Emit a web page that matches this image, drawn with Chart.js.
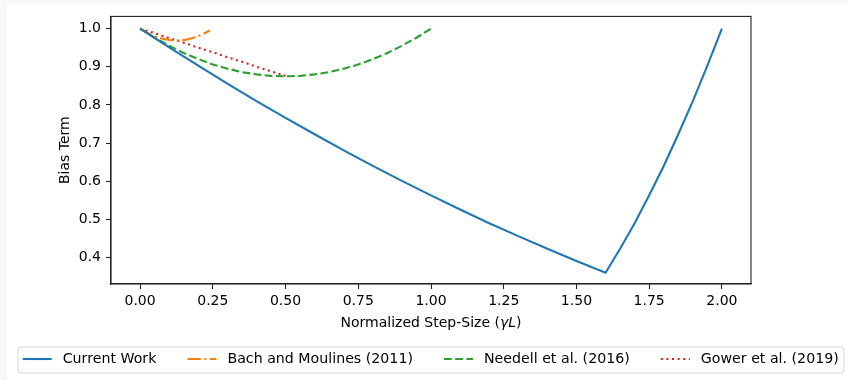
<!DOCTYPE html>
<html>
<head>
<meta charset="utf-8">
<script src="https://cdn.jsdelivr.net/npm/chart.js@4.4.0/dist/chart.umd.min.js"></script>
<style>
html, body { margin: 0; padding: 0; background: #f7f7f7; }
#wrap { position: absolute; left: 7px; top: 3px; width: 841px; height: 377px; background: #fff; }
canvas { display: block; }
</style>
</head>
<body>
<div id="wrap"><canvas id="myChart" width="841" height="377"></canvas></div>
<script>
// values
const currentX = [0, 0.1, 0.2, 0.3, 0.4, 0.5, 0.6, 0.7, 0.8, 0.9, 1.0, 1.1, 1.2, 1.3, 1.4, 1.5, 1.6, 1.65, 1.7, 1.75, 1.8, 1.85, 1.9, 1.95, 2.0];
const currentY = [1.0, 0.951, 0.903, 0.856, 0.81, 0.766, 0.723, 0.681, 0.64, 0.601, 0.563, 0.526, 0.49, 0.456, 0.423, 0.391, 0.36, 0.423, 0.49, 0.563, 0.64, 0.723, 0.81, 0.903, 1.0];

const bachX = [0, 0.02, 0.04, 0.06, 0.08, 0.10, 0.12, 0.14, 0.16, 0.18, 0.20, 0.22, 0.24];
const bachY = [1.0, 0.991, 0.983, 0.977, 0.973, 0.97, 0.969, 0.969, 0.971, 0.975, 0.98, 0.987, 0.995];

const needellX = [0, 0.05, 0.1, 0.15, 0.2, 0.25, 0.3, 0.35, 0.4, 0.45, 0.5, 0.55, 0.6, 0.65, 0.7, 0.75, 0.8, 0.85, 0.9, 0.95, 1.0];
const needellY = [1.0, 0.976, 0.955, 0.936, 0.92, 0.906, 0.895, 0.886, 0.88, 0.876, 0.875, 0.876, 0.88, 0.886, 0.895, 0.906, 0.92, 0.936, 0.955, 0.976, 1.0];

const gowerX = [0, 0.05, 0.1, 0.15, 0.2, 0.25, 0.3, 0.35, 0.4, 0.45, 0.5];
const gowerY = [1.0, 0.988, 0.975, 0.963, 0.95, 0.938, 0.925, 0.913, 0.9, 0.888, 0.876];

const xTicks = [0, 0.25, 0.5, 0.75, 1.0, 1.25, 1.5, 1.75, 2.0];
const yTicks = [0.4, 0.5, 0.6, 0.7, 0.8, 0.9, 1.0];

const FONT = '"DejaVu Sans", sans-serif';

function pts(xs, ys) {
    return xs.map((x, i) => ({ x: x, y: ys[i] }));
}

function series(label, xs, ys, color, dash) {
    return {
        label: label,
        data: pts(xs, ys),
        borderColor: color,
        backgroundColor: color,
        borderWidth: 2.1,
        borderDash: dash,
        pointRadius: 0,
        showLine: true,
        tension: 0,
        fill: false
    };
}

// full frame round the plot, like matplotlib spines
const framePlugin = {
    id: 'frame',
    afterDatasetsDraw(chart) {
        const a = chart.chartArea;
        const ctx = chart.ctx;
        ctx.save();
        ctx.strokeStyle = '#222';
        ctx.lineWidth = 1.1;
        ctx.strokeRect(a.left, a.top, a.right - a.left, a.bottom - a.top);
        ctx.restore();
    }
};

// axis titles and the framed legend below the plot
const textPlugin = {
    id: 'texts',
    afterDraw(chart) {
        const ctx = chart.ctx;
        const a = chart.chartArea;
        ctx.save();
        ctx.fillStyle = '#000';
        ctx.textBaseline = 'middle';

        // x title with italic gamma L
        const parts = [
            ['Normalized Step-Size (', '14px ' + FONT],
            ['γL', 'italic 14px ' + FONT],
            [')', '14px ' + FONT]
        ];
        let total = 0;
        parts.forEach(p => { ctx.font = p[1]; total += ctx.measureText(p[0]).width; });
        let tx = (a.left + a.right) / 2 - total / 2;
        ctx.textAlign = 'left';
        parts.forEach(p => {
            ctx.font = p[1];
            ctx.fillText(p[0], tx, 320);
            tx += ctx.measureText(p[0]).width;
        });

        // y title
        ctx.save();
        ctx.font = '14px ' + FONT;
        ctx.translate(58, (a.top + a.bottom) / 2);
        ctx.rotate(-Math.PI / 2);
        ctx.textAlign = 'center';
        ctx.fillText('Bias Term', 0, 0);
        ctx.restore();

        // legend
        const lx = 11, ly = 344, lw = 826, lh = 26, r = 3;
        ctx.beginPath();
        ctx.moveTo(lx + r, ly);
        ctx.arcTo(lx + lw, ly, lx + lw, ly + lh, r);
        ctx.arcTo(lx + lw, ly + lh, lx, ly + lh, r);
        ctx.arcTo(lx, ly + lh, lx, ly, r);
        ctx.arcTo(lx, ly, lx + lw, ly, r);
        ctx.closePath();
        ctx.fillStyle = 'rgba(255,255,255,0.8)';
        ctx.fill();
        ctx.strokeStyle = '#d6d6d6';
        ctx.lineWidth = 1;
        ctx.stroke();

        ctx.font = '14.2px ' + FONT;
        let x = 15.7;
        const cy = 356;
        chart.data.datasets.forEach(ds => {
            ctx.beginPath();
            ctx.setLineDash(ds.borderDash || []);
            ctx.strokeStyle = ds.borderColor;
            ctx.lineWidth = ds.borderWidth;
            ctx.moveTo(x, cy);
            ctx.lineTo(x + 29, cy);
            ctx.stroke();
            ctx.setLineDash([]);
            x += 29 + 11;
            ctx.fillStyle = '#000';
            ctx.fillText(ds.label, x, cy);
            x += ctx.measureText(ds.label).width + 31;
        });
        ctx.restore();
    }
};

const ctx = document.getElementById('myChart').getContext('2d');
new Chart(ctx, {
    type: 'scatter',
    data: {
        datasets: [
            series('Current Work', currentX, currentY, '#1f77b4', []),
            series('Bach and Moulines (2011)', bachX, bachY, '#ff7f0e', [13.4, 3.4, 2.1, 3.4]),
            series('Needell et al. (2016)', needellX, needellY, '#2ca02c', [7.8, 3.4]),
            series('Gower et al. (2019)', gowerX, gowerY, '#d62728', [2.1, 3.5])
        ]
    },
    options: {
        responsive: false,
        animation: false,
        layout: { padding: { top: 10, right: 97, left: 0, bottom: 0 } },
        plugins: {
            legend: { display: false },
            tooltip: { enabled: false }
        },
        scales: {
            x: {
                type: 'linear',
                min: -0.1,
                max: 2.1,
                afterBuildTicks: s => { s.ticks = xTicks.map(v => ({ value: v })); },
                afterFit: s => { s.height = 96; },
                ticks: {
                    color: '#000',
                    font: { family: FONT, size: 14 },
                    padding: 4,
                    maxRotation: 0,
                    autoSkip: false,
                    callback: v => v.toFixed(2)
                },
                grid: { drawOnChartArea: false, drawTicks: true, tickLength: 5, color: '#222', tickWidth: 1.1 },
                border: { display: true, color: '#222', width: 1.1 }
            },
            y: {
                type: 'linear',
                min: 0.3306,
                max: 1.0319,
                afterBuildTicks: s => { s.ticks = yTicks.map(v => ({ value: v })); },
                afterFit: s => { s.width = 104; },
                ticks: {
                    color: '#000',
                    font: { family: FONT, size: 14 },
                    padding: 5,
                    autoSkip: false,
                    callback: v => v.toFixed(1)
                },
                grid: { drawOnChartArea: false, drawTicks: true, tickLength: 5, color: '#222', tickWidth: 1.1 },
                border: { display: true, color: '#222', width: 1.1 }
            }
        }
    },
    plugins: [framePlugin, textPlugin]
});
</script>
</body>
</html>
